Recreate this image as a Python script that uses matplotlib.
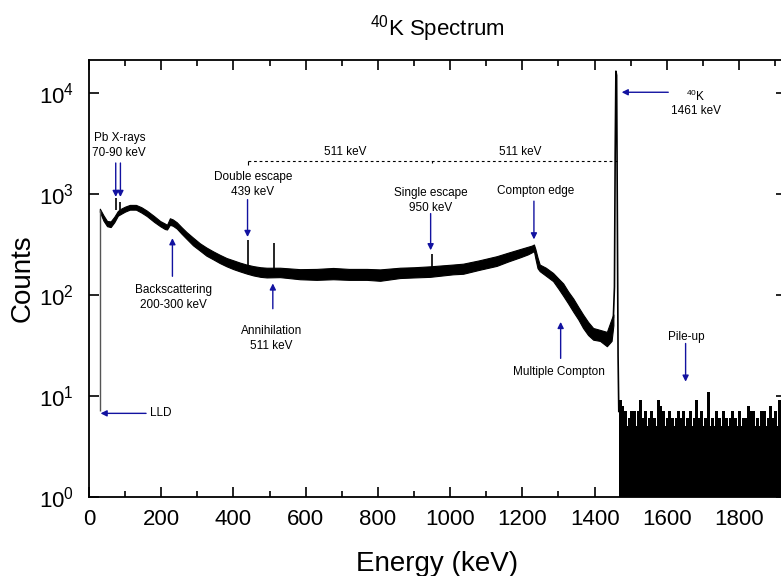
import numpy as np
import matplotlib.pyplot as plt

plt.rcParams['font.family'] = 'Liberation Sans'
plt.rcParams['mathtext.fontset'] = 'custom'
plt.rcParams['mathtext.rm'] = 'Liberation Sans'
plt.rcParams['mathtext.it'] = 'Liberation Sans:italic'
plt.rcParams['mathtext.bf'] = 'Liberation Sans:bold'

# continuum: lower and upper edge of the noisy band (keV, counts)
energy_kev = [30, 40, 50, 60, 70, 80, 90, 100, 113, 130, 145, 160, 180, 197, 210,
              216, 224, 232, 243, 256, 270, 288, 307, 325, 344, 362, 381, 400, 418,
              436, 455, 475, 492, 529, 584, 630, 676, 720, 769, 806, 861, 900, 944,
              1008, 1036, 1080, 1129, 1160, 1194, 1215, 1226, 1232, 1236, 1242, 1248,
              1265, 1285, 1300, 1313, 1327, 1341, 1355, 1368, 1382, 1396, 1415, 1434,
              1447, 1452]
counts_low = [665, 545, 480, 470, 525, 610, 640, 670, 700, 700, 655, 605, 530, 480, 450,
              445, 495, 485, 455, 405, 360, 310, 275, 245, 225, 207, 192, 180, 171,
              163, 156, 151, 149, 150, 143, 141, 143, 141, 141, 138, 147, 149, 151,
              160, 162, 177, 194, 214, 236, 252, 264, 272, 230, 184, 172,
              155, 137, 115, 98, 82, 68, 57, 47, 40, 36, 35, 31,
              35, 50]
counts_high = [715, 615, 540, 535, 595, 680, 720, 750, 780, 780, 740, 685, 605, 540, 510,
               495, 575, 560, 525, 470, 420, 370, 325, 295, 270, 250, 232, 220, 209,
               200, 193, 188, 186, 186, 180, 181, 185, 181, 181, 179, 186, 188, 192,
               200, 204, 220, 242, 262, 285, 300, 308, 316, 285, 235, 200,
               186, 165, 145, 130, 108, 92, 76, 64, 54, 47, 45, 43,
               58, 64]

# narrow lines standing on the continuum
line_energy = [75, 87, 439, 511, 950]
line_base = [700, 700, 185, 165, 170]
line_top = [910, 840, 348, 327, 252]

# 1461 keV photopeak
peak_energy = [1452, 1455, 1457, 1459, 1461, 1463, 1465, 1467]
peak_counts = [60, 120, 2500, 16500, 15000, 600, 25, 7]

# pile-up region above the photopeak, highest count in each 5 keV bin
pileup_energy = np.arange(1470, 1925, 5)
pileup_counts = [9, 8, 6, 7, 5, 6, 7, 6, 7, 5, 7, 9, 6, 5, 7, 5, 6, 7, 5, 6,
                 5, 9, 8, 6, 7, 5, 6, 7, 5, 6, 5, 6, 7, 5, 6, 7, 5, 6, 5, 7,
                 5, 6, 9, 5, 6, 7, 5, 6, 6, 11, 5, 6, 5, 7, 5, 6, 5, 7, 5, 6,
                 5, 6, 7, 5, 6, 5, 7, 5, 6, 5, 6, 8, 7, 5, 7, 5, 6, 5, 7, 5,
                 7, 5, 6, 8, 6, 5, 7, 5, 9, 6, 7]
pileup_core = (1.5, 4.2)

blue = '#1212a0'

fig = plt.figure(figsize=(7.81, 5.76), dpi=100)
ax = fig.add_axes([89 / 781, 79.3 / 576, (786 - 89) / 781, (496.7 - 60) / 576])

ax.fill_between(energy_kev, counts_low, counts_high, color='black', lw=0.8)
ax.vlines(line_energy, line_base, line_top, color='black', lw=1.2)
ax.vlines(30, 7, 700, color='#555555', lw=1.0)
ax.plot(peak_energy, peak_counts, color='black', lw=1.2)
ax.fill_between(pileup_energy, pileup_core[0], pileup_core[1], color='black', lw=0)
ax.vlines(pileup_energy, 0.5, pileup_counts, color='black', lw=0.8, antialiased=False)

ax.set_yscale('log')
ax.set_xlim(0, 1930)
ax.set_ylim(1, 2.13e4)
ax.set_xticks(np.arange(0, 1801, 200))
ax.set_xticks(np.arange(100, 1901, 200), minor=True)
ax.set_yticks([1, 10, 100, 1000, 10000])
ax.yaxis.set_minor_locator(plt.NullLocator())
ax.tick_params(which='both', direction='in', top=True, right=True, labelsize=16)
ax.tick_params(which='major', length=7, width=1.2)
ax.tick_params(which='minor', length=4, width=1.2)
ax.tick_params(axis='x', pad=9)
ax.tick_params(axis='y', pad=11)
for s in ax.spines.values():
    s.set_linewidth(1.3)

ax.set_xlabel('Energy (keV)', fontsize=20, labelpad=15)
ax.set_ylabel('Counts', fontsize=20, labelpad=2)
ax.set_title('$^{40}$K Spectrum', fontsize=16, pad=18)


def arrow(x0, y0, x1, y1):
    ax.annotate('', xy=(x1, y1), xytext=(x0, y0),
                arrowprops=dict(arrowstyle='-|>', color=blue, lw=1.0,
                                mutation_scale=9, shrinkA=0, shrinkB=0))


fs = 8.5
ax.text(84, 3000, 'Pb X-rays\n70-90 keV', ha='center', va='center', fontsize=fs, linespacing=1.35)
arrow(74, 2030, 74, 935)
arrow(87, 2030, 87, 935)

ax.text(235, 95, 'Backscattering\n200-300 keV', ha='center', va='center', fontsize=fs, linespacing=1.35)
arrow(231, 153, 231, 365)

ax.text(454, 1250, 'Double escape\n439 keV', ha='center', va='center', fontsize=fs, linespacing=1.35)
arrow(439, 880, 439, 375)

ax.text(506, 37, 'Annihilation\n511 keV', ha='center', va='center', fontsize=fs, linespacing=1.35)
arrow(509, 73, 509, 130)

ax.text(946, 870, 'Single escape\n950 keV', ha='center', va='center', fontsize=fs, linespacing=1.35)
arrow(946, 640, 946, 277)

ax.text(1236, 1060, 'Compton edge', ha='center', va='center', fontsize=fs)
arrow(1232, 850, 1232, 355)

ax.text(1300, 17.3, 'Multiple Compton', ha='center', va='center', fontsize=fs)
arrow(1306, 23.5, 1306, 54)

ax.text(1680, 8000, '$^{40}$K\n1461 keV', ha='center', va='center', fontsize=fs, linespacing=1.2)
arrow(1604, 10200, 1475, 10200)

ax.text(1655, 38, 'Pile-up', ha='center', va='center', fontsize=fs)
arrow(1652, 33, 1652, 13.8)

ax.text(170, 6.7, 'LLD', ha='left', va='center', fontsize=fs)
arrow(158, 6.7, 32, 6.7)

# 511 keV spacing between the escape peaks and the photopeak
ax.plot([439, 1461], [2130, 2130], color='black', lw=0.8, ls=(0, (2.5, 2.5)))
ax.vlines(439, 1950, 2130, color='black', lw=0.8)
ax.vlines(950, 2020, 2130, color='black', lw=0.8)
ax.text(709, 2600, '511 keV', ha='center', va='center', fontsize=fs)
ax.text(1195, 2600, '511 keV', ha='center', va='center', fontsize=fs)

fig.savefig('out.png', dpi=100)
